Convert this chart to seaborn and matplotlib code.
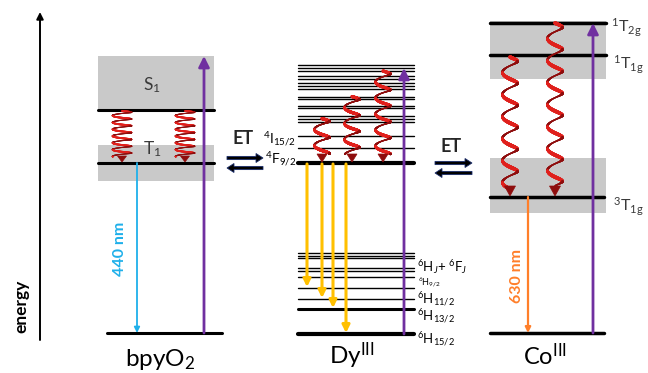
import numpy as np
import pandas as pd
import matplotlib
matplotlib.use("Agg")
import matplotlib.pyplot as plt
import seaborn as sns
from matplotlib.collections import LineCollection
from matplotlib.patches import Polygon, Rectangle

# ---------------- data (energies in arbitrary units, ground = 0) ----------------
bpy_names = ["S0", "T1", "S1"]
bpy_energy = [0, 170, 223]
bpy_band_low = [152, 223]
bpy_band_high = [188, 277]

dy_upper = [268, 265.5, 262, 257, 254.5, 250, 247.5, 244, 236.5, 234,
            227.5, 225, 217, 214.5, 211.5, 197.5]
dy_4I15 = 185.5
dy_4F92 = 170
dy_HJFJ = [80, 77, 75, 65, 62, 56]
dy_6H = [45, 34, 24, -1]
dy_6H_labels = [r"$^6$H$_{9/2}$", r"$^6$H$_{11/2}$", r"$^6$H$_{13/2}$", r"$^6$H$_{15/2}$"]
dy_relax_from = [214.5, 236.5, 262]
dy_pump_to = 265

co_names = ["ground", "3T1g", "1T1g", "1T2g"]
co_energy = [0, 136, 278, 310]
co_band_low = [120, 254]
co_band_high = [175, 312]

emission_labels = ["440 nm", "630 nm"]

# ---------------- style ----------------
sns.set_theme(style="white")
plt.rcParams["font.family"] = ["Lato", "DejaVu Sans"]
plt.rcParams["mathtext.fontset"] = "custom"
plt.rcParams["mathtext.rm"] = "Lato"
plt.rcParams["mathtext.it"] = "Lato:italic"
plt.rcParams["mathtext.bf"] = "Lato:bold"

PURPLE = "#7030a0"
BLUE = "#1fb0ea"
YELLOW = "#ffc000"
ORANGE = "#ff7f2a"
GRAY = "#c9c9c9"
RED = "#e0201c"
DARKRED = "#8e0d0d"
LABEL = "#3a3a3a"

fig = plt.figure(figsize=(6.48, 3.73), dpi=100)
ax = fig.add_axes([0, 0, 1, 1])

# column extents
BPY = (98, 214)
DY = (298, 414)
CO = (490, 606)

# ---------------- bands ----------------
for lo, hi in zip(bpy_band_low, bpy_band_high):
    ax.add_patch(Rectangle((BPY[0], lo), BPY[1] - BPY[0], hi - lo, fc=GRAY, ec="none", zorder=0))
for lo, hi in zip(co_band_low, co_band_high):
    ax.add_patch(Rectangle((CO[0], lo), CO[1] - CO[0], hi - lo, fc=GRAY, ec="none", zorder=0))

# ---------------- energy levels via seaborn ----------------
rows = []
def add_level(uid, x0, x1, e, w):
    rows.append(dict(uid=uid, x=x0, E=e, w=w))
    rows.append(dict(uid=uid, x=x1, E=e, w=w))

add_level("bpy_S0", 107, 222, bpy_energy[0], "bpy")
for n, e in zip(bpy_names[1:], bpy_energy[1:]):
    add_level("bpy_" + n, BPY[0], BPY[1], e, "bpy")
for i, e in enumerate(dy_upper + [dy_4I15] + dy_HJFJ + dy_6H[:2]):
    add_level(f"dy_{i}", DY[0], DY[1], e, "thin")
add_level("dy_4F", DY[0], DY[1], dy_4F92, "thick")
add_level("dy_13", DY[0], DY[1], dy_6H[2], "bpy")
add_level("dy_15", DY[0], DY[1], dy_6H[3], "thick")
add_level("co_g", CO[0], 604, co_energy[0], "co")
add_level("co_3", CO[0], 604, co_energy[1], "co")
for n, e in zip(co_names[2:], co_energy[2:]):
    add_level("co_" + n, CO[0], CO[1], e, "co")
levels = pd.DataFrame(rows)
sns.lineplot(data=levels, x="x", y="E", units="uid", estimator=None, size="w",
             sizes={"thin": 1.0, "bpy": 2.2, "co": 2.5, "thick": 3.0},
             color="black", legend=False, sort=False, ax=ax, zorder=2)
ax.set_xlim(0, 648)
ax.set_ylim(-40, 333)
ax.axis("off")


# ---------------- helper drawings ----------------
def straight_arrow(x, e0, e1, color, lw, ms, z=4):
    ax.annotate("", xy=(x, e1), xytext=(x, e0),
                arrowprops=dict(arrowstyle="-|>", color=color, lw=lw,
                                mutation_scale=ms, shrinkA=0, shrinkB=0),
                zorder=z)


def helix(x0, e_top, e_tip, amp, period, tilt=0.15, head=9, hw=5.5, w0=1.0, w1=1.2):
    e_end = e_tip + head * 0.8
    length = e_top - e_end
    s = np.linspace(0, 1, 1200)
    th = 2 * np.pi * length / period * s
    x = x0 + amp * np.sin(th)
    y = e_top - length * s - amp * tilt * np.cos(th) + amp * tilt
    pts = np.column_stack([x, y])
    segs = np.stack([pts[:-1], pts[1:]], axis=1)
    depth = np.cos(th[:-1])
    # ribbon colored and sized by depth: bright in front, dark behind
    cols = np.where(depth > 0, RED, DARKRED)
    widths = w0 + w1 * (depth + 1) / 2
    ax.add_collection(LineCollection(segs, colors=cols, linewidths=widths,
                                     capstyle="round", zorder=3))
    ax.add_patch(Polygon([(x0 - hw, e_tip + head), (x0 + hw, e_tip + head), (x0, e_tip)],
                         closed=True, fc=DARKRED, ec=DARKRED, lw=0.5, zorder=3))


def et_arrows(x0, x1, e_hi, e_lo):
    ax.arrow(x0, e_hi, x1 - x0, 0, width=3.2, head_width=9, head_length=7,
             length_includes_head=True, fc="black", ec="#1c2f6e", lw=0.6, zorder=4)
    ax.arrow(x1, e_lo, x0 - x1, 0, width=3.2, head_width=9, head_length=7,
             length_includes_head=True, fc="black", ec="#1c2f6e", lw=0.6, zorder=4)


# ---------------- energy axis ----------------
ax.annotate("", xy=(40, 321), xytext=(40, -7),
            arrowprops=dict(arrowstyle="-|>", color="black", lw=1.4,
                            mutation_scale=10, shrinkA=0, shrinkB=0))
ax.text(21, 27, "energy", rotation=90, ha="center", va="center",
        fontsize=12.5, fontweight="bold", color="black")

# ---------------- bpyO2 ----------------
straight_arrow(204, bpy_energy[0], bpy_band_high[1], PURPLE, 2.0, 16)
straight_arrow(137, bpy_energy[1], bpy_energy[0], BLUE, 1.3, 8)
ax.text(120, 84, emission_labels[0], rotation=90, ha="center", va="center",
        fontsize=11.5, fontweight="bold", color=BLUE)
for xh in (122, 185):
    helix(xh, bpy_energy[2] - 1, bpy_energy[1] + 1, 9.5, 6.8, tilt=0.05,
          head=6, hw=4.5, w0=0.8, w1=0.6)
ax.text(152, 248, r"S$_1$", ha="center", va="center", fontsize=12.5, color=LABEL)
ax.text(152, 184, r"T$_1$", ha="center", va="center", fontsize=12.5, color=LABEL)
ax.text(160, -26, r"bpyO$_2$", ha="center", va="center", fontsize=17.5, color="black")

# ---------------- ET arrows ----------------
ax.text(243, 194, "ET", ha="center", va="center", fontsize=13, fontweight="bold")
et_arrows(227, 263, 175, 165)
ax.text(451, 187, "ET", ha="center", va="center", fontsize=13, fontweight="bold")
et_arrows(435, 472, 170, 160)

# ---------------- Dy(III) ----------------
straight_arrow(404, dy_6H[3], dy_pump_to, PURPLE, 2.0, 16)
for xh, e0 in zip((322, 352, 383), dy_relax_from):
    helix(xh, e0, dy_4F92 + 1, 7.5, 16, tilt=0.15, head=8, hw=5, w0=1.0, w1=1.3)
for xa, e1 in zip((307, 322, 333, 346), dy_6H):
    straight_arrow(xa, dy_4F92 - 1, e1 + 1, YELLOW, 2.2, 11)
ax.text(296, 193, r"$^4$I$_{15/2}$", ha="right", va="center", fontsize=10, color="black")
ax.text(296, 173, r"$^4$F$_{9/2}$", ha="right", va="center", fontsize=10, color="black")
ax.text(417, 66, r"$^6$H$_J$+ $^6$F$_J$", ha="left", va="center", fontsize=9.5, color="black")
ax.text(418, 50, dy_6H_labels[0], ha="left", va="center", fontsize=6.5, color="black")
ax.text(417, 33, dy_6H_labels[1], ha="left", va="center", fontsize=9.5, color="black")
ax.text(417, 16, dy_6H_labels[2], ha="left", va="center", fontsize=9.5, color="black")
ax.text(417, -7, dy_6H_labels[3], ha="left", va="center", fontsize=9.5, color="black")
ax.text(352, -23, r"Dy$^{\mathrm{III}}$", ha="center", va="center", fontsize=17.5, color="black")

# ---------------- Co(III) ----------------
straight_arrow(593, co_energy[0], co_energy[3], PURPLE, 2.0, 16)
straight_arrow(528, co_energy[1], co_energy[0], ORANGE, 1.6, 8)
ax.text(517, 57, emission_labels[1], rotation=90, ha="center", va="center",
        fontsize=11.5, fontweight="bold", color=ORANGE)
helix(510, co_energy[2] - 2, co_energy[1] + 1, 7.5, 22, tilt=0.15, head=10, hw=5.5, w0=1.1, w1=1.6)
helix(555, co_energy[3], co_energy[1] + 1, 7.5, 22, tilt=0.15, head=10, hw=5.5, w0=1.1, w1=1.6)
ax.text(611, 305, r"$^1$T$_{\mathrm{2g}}$", ha="left", va="center", fontsize=11.5, color=LABEL)
ax.text(613, 268, r"$^1$T$_{\mathrm{1g}}$", ha="left", va="center", fontsize=11.5, color=LABEL)
ax.text(613, 126, r"$^3$T$_{\mathrm{1g}}$", ha="left", va="center", fontsize=11.5, color=LABEL)
ax.text(545, -23, r"Co$^{\mathrm{III}}$", ha="center", va="center", fontsize=17, color="black")

fig.savefig("out.png", dpi=100)
